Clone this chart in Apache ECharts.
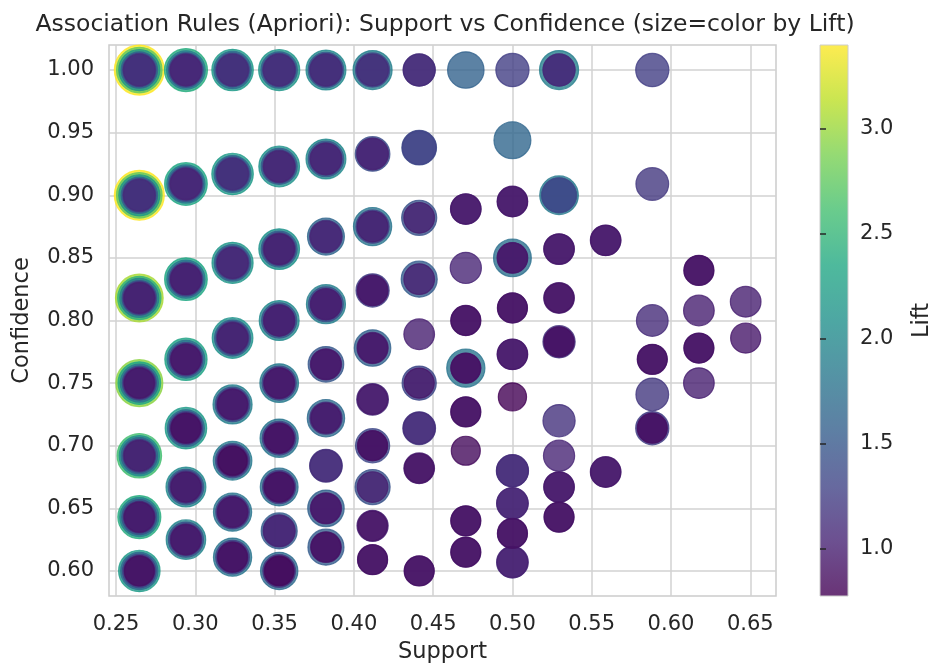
<!DOCTYPE html>
<html>
<head>
<meta charset="utf-8">
<title>Association Rules (Apriori)</title>
<script src="https://cdn.jsdelivr.net/npm/echarts@6.0.0/dist/echarts.min.js"></script>
<style>
  html, body { margin: 0; padding: 0; background: #fff; }
  #chart { width: 931px; height: 666px; }
</style>
</head>
<body>
<div id="chart"></div>
<script>
// support of the rule (x), one list per support column
var SUPPORT = [0.2647, 0.2941, 0.3235, 0.3529, 0.3824, 0.4118, 0.4412,
               0.4706, 0.5000, 0.5294, 0.5588, 0.5882, 0.6176, 0.6471];

// each row: [confidence, lift of rule 1, lift of rule 2, ...] (rules sharing a point)
var rulesS09 = [
    [1.000, 3.40, 2.75, 2.15, 1.60, 1.25, 1.10],
    [0.900, 3.40, 2.75, 2.15, 1.60, 1.25, 1.10],
    [0.818, 3.05, 2.45, 1.90, 1.40, 1.15, 1.00],
    [0.750, 2.95, 2.35, 1.80, 1.35, 1.10, 0.95],
    [0.692, 2.60, 2.05, 1.60, 1.20, 1.00],
    [0.643, 2.40, 1.90, 1.45, 1.10, 0.95],
    [0.600, 2.20, 1.70, 1.30, 1.00, 0.90]
];
var rulesS10 = [
    [1.000, 2.40, 1.85, 1.40, 1.15, 1.05],
    [0.909, 2.35, 1.80, 1.40, 1.15, 1.05],
    [0.833, 2.35, 1.80, 1.35, 1.10, 1.00],
    [0.769, 2.30, 1.75, 1.30, 1.05, 0.95],
    [0.714, 2.20, 1.65, 1.25, 1.00, 0.90],
    [0.667, 2.00, 1.50, 1.15, 0.95],
    [0.625, 1.95, 1.45, 1.10, 0.95]
];
var rulesS11 = [
    [1.000, 2.20, 1.70, 1.30, 1.10],
    [0.917, 2.20, 1.65, 1.30, 1.10],
    [0.846, 2.15, 1.60, 1.25, 1.05],
    [0.786, 2.10, 1.55, 1.20, 1.00],
    [0.733, 1.90, 1.40, 1.10, 0.95],
    [0.688, 1.85, 1.35, 1.05, 0.85],
    [0.647, 1.80, 1.30, 1.05, 0.95],
    [0.611, 1.80, 1.30, 1.00, 0.90]
];
var rulesS12 = [
    [1.000, 2.15, 1.60, 1.25, 1.10],
    [0.923, 2.10, 1.55, 1.20, 1.05],
    [0.857, 2.10, 1.55, 1.20, 1.00],
    [0.800, 2.00, 1.45, 1.10, 1.00],
    [0.750, 1.85, 1.35, 1.05, 0.95],
    [0.706, 1.80, 1.30, 1.00, 0.90],
    [0.667, 1.75, 1.25, 1.00, 0.90],
    [0.632, 1.55, 1.15, 1.05],
    [0.600, 1.70, 1.20, 0.95, 0.85]
];
var rulesS13 = [
    [1.000, 2.00, 1.50, 1.20, 1.10],
    [0.929, 2.00, 1.50, 1.15, 1.05],
    [0.867, 1.65, 1.20, 1.05],
    [0.813, 1.90, 1.40, 1.05, 1.00],
    [0.765, 1.50, 1.05, 0.95],
    [0.722, 1.70, 1.15, 0.95],
    [0.684, 1.20, 1.10],
    [0.650, 1.60, 1.05, 0.95],
    [0.619, 1.55, 1.00, 0.90]
];
var rulesS14 = [
    [1.000, 1.90, 1.35, 1.10],
    [0.933, 1.40, 1.10, 1.05],
    [0.875, 1.80, 1.25, 1.00],
    [0.824, 1.25, 1.00, 0.95],
    [0.778, 1.60, 1.05, 0.95],
    [0.737, 1.10, 0.95],
    [0.700, 1.35, 0.95, 0.90],
    [0.667, 1.45, 1.00],
    [0.636, 1.05, 0.90],
    [0.609, 0.95, 0.90]
];
var rulesS15 = [
    [1.000, 1.15, 1.10],
    [0.938, 1.40, 1.30],
    [0.882, 1.45, 1.00],
    [0.833, 1.55, 1.00],
    [0.789, 1.00],
    [0.750, 1.35, 0.95],
    [0.714, 1.20, 1.10],
    [0.682, 1.00, 0.90],
    [0.600, 0.95, 0.90]
];
var rulesS16 = [
    [1.000, 1.60],
    [0.889, 1.00, 0.95],
    [0.842, 1.05],
    [0.800, 0.95, 0.90],
    [0.762, 1.80, 0.95, 0.90],
    [0.727, 0.95, 0.90],
    [0.696, 0.85],
    [0.640, 0.95, 0.90],
    [0.615, 0.95, 0.90]
];
var rulesS17 = [
    [1.000, 1.25],
    [0.944, 1.65],
    [0.895, 1.00, 0.95],
    [0.850, 1.75, 1.00, 0.95],
    [0.810, 0.95, 0.90],
    [0.773, 1.00, 0.95],
    [0.739, 0.78],
    [0.680, 1.15, 1.10],
    [0.654, 1.10, 1.05],
    [0.630, 0.95, 0.90],
    [0.607, 1.10, 1.00]
];
var rulesS18 = [
    [1.000, 1.90, 1.15, 1.10],
    [0.900, 1.85, 1.45, 1.35],
    [0.857, 1.00, 0.95],
    [0.818, 1.00, 0.90],
    [0.783, 1.15, 0.95, 0.90],
    [0.720, 1.15],
    [0.692, 1.05],
    [0.667, 1.00, 0.95],
    [0.643, 0.95, 0.90]
];
var rulesS19 = [
    [0.864, 1.00, 0.95],
    [0.679, 1.00, 0.95]
];
var rulesS20 = [
    [1.000, 1.25],
    [0.909, 1.20],
    [0.800, 1.10],
    [0.769, 0.95, 0.90],
    [0.741, 1.20],
    [0.714, 1.25, 0.95, 0.90]
];
var rulesS21 = [
    [0.840, 0.95, 0.90],
    [0.808, 1.00],
    [0.778, 0.95, 0.90],
    [0.750, 1.00]
];
var rulesS22 = [
    [0.815, 1.00],
    [0.786, 0.95]
];
var RULES_BY_SUPPORT = [rulesS09, rulesS10, rulesS11, rulesS12, rulesS13, rulesS14, rulesS15,
                        rulesS16, rulesS17, rulesS18, rulesS19, rulesS20, rulesS21, rulesS22];

var SUPPORT_TICKS = [0.25, 0.30, 0.35, 0.40, 0.45, 0.50, 0.55, 0.60, 0.65];
var CONF_TICKS = [0.60, 0.65, 0.70, 0.75, 0.80, 0.85, 0.90, 0.95, 1.00];
var LIFT_TICKS = [1.0, 1.5, 2.0, 2.5, 3.0];
var LIFT_RANGE = [0.775, 3.40];

var VIRIDIS = ['#440154', '#482475', '#414487', '#355f8d', '#2a788e', '#21918c',
               '#22a884', '#44bf70', '#7ad151', '#bddf26', '#fde725'];
var TEXT = '#262626';
var FONT = 'DejaVu Sans';

function liftColor(l) {
    return echarts.color.lerp((l - LIFT_RANGE[0]) / (LIFT_RANGE[1] - LIFT_RANGE[0]), VIRIDIS);
}
function liftSize(l) {
    return Math.sqrt(841 + (l - 0.85) * 650); // area grows with lift
}

var points = [];
SUPPORT.forEach(function (s, i) {
    RULES_BY_SUPPORT[i].forEach(function (row) {
        for (var k = 1; k < row.length; k++) points.push([s, row[0], row[k]]);
    });
});
// bigger (higher lift) first so smaller circles sit on top
points.sort(function (a, b) { return b[2] - a[2]; });

var xPad = (SUPPORT[SUPPORT.length - 1] - SUPPORT[0]) * 0.05;

var barStops = VIRIDIS.map(function (c, i) {
    return { offset: i / (VIRIDIS.length - 1), color: echarts.color.modifyAlpha(c, 0.8) };
});

var myChart = echarts.init(document.getElementById('chart'), null, { renderer: 'canvas' });

myChart.setOption({
    animation: false,
    backgroundColor: '#fff',
    textStyle: { fontFamily: FONT, color: TEXT },
    title: {
        text: 'Association Rules (Apriori): Support vs Confidence (size=color by Lift)',
        left: 440,
        textAlign: 'center',
        top: 8,
        textStyle: { fontFamily: FONT, fontSize: 23.5, fontWeight: 'normal', color: TEXT }
    },
    grid: [{
        left: 109, top: 45, width: 667, height: 551, outerBoundsMode: 'none',
        show: true, borderColor: '#cccccc', borderWidth: 1.5, backgroundColor: '#fff'
    }, {
        left: 820, top: 45, width: 28, height: 551, outerBoundsMode: 'none',
        show: true, borderColor: '#cccccc', borderWidth: 1,
        backgroundColor: { type: 'linear', x: 0, y: 1, x2: 0, y2: 0, colorStops: barStops }
    }],
    xAxis: [{
        type: 'value', gridIndex: 0,
        min: SUPPORT[0] - xPad, max: SUPPORT[SUPPORT.length - 1] + xPad,
        name: 'Support', nameLocation: 'middle', nameGap: 45,
        nameTextStyle: { fontSize: 22.5, color: TEXT },
        axisLine: { show: false },
        axisTick: { show: false, customValues: SUPPORT_TICKS },
        axisLabel: {
            customValues: SUPPORT_TICKS, fontSize: 21, color: TEXT, margin: 18,
            formatter: function (v) { return v.toFixed(2); }
        },
        splitLine: { show: true, lineStyle: { color: '#d2d2d2', width: 1.5 } }
    }, {
        type: 'value', gridIndex: 1, min: 0, max: 1, show: false
    }],
    yAxis: [{
        type: 'value', gridIndex: 0, min: 0.58, max: 1.02,
        name: 'Confidence', nameLocation: 'middle', nameGap: 75, nameRotate: 90,
        nameTextStyle: { fontSize: 22.5, color: TEXT },
        axisLine: { show: false },
        axisTick: { show: false, customValues: CONF_TICKS },
        axisLabel: {
            customValues: CONF_TICKS, fontSize: 21, color: TEXT, margin: 15,
            formatter: function (v) { return v.toFixed(2); }
        },
        splitLine: { show: true, lineStyle: { color: '#d2d2d2', width: 1.5 } }
    }, {
        type: 'value', gridIndex: 1, position: 'right',
        min: LIFT_RANGE[0], max: LIFT_RANGE[1],
        name: 'Lift', nameLocation: 'middle', nameGap: 63, nameRotate: 90,
        nameTextStyle: { fontSize: 22.5, color: TEXT },
        axisLine: { show: false },
        splitLine: { show: false },
        axisTick: { show: true, inside: false, length: 6, customValues: LIFT_TICKS, lineStyle: { color: TEXT, width: 1.5 } },
        axisLabel: {
            customValues: LIFT_TICKS, fontSize: 21, color: TEXT, margin: 12,
            formatter: function (v) { return v.toFixed(1); }
        }
    }],
    series: [{
        type: 'scatter',
        xAxisIndex: 0, yAxisIndex: 0,
        silent: true,
        clip: false,
        symbol: 'circle',
        symbolSize: function (val) { return liftSize(val[2]); },
        data: points.map(function (p) {
            var c = liftColor(p[2]);
            return { value: p, itemStyle: { color: c, borderColor: c, borderWidth: 1.2, opacity: 0.8 } };
        })
    }]
});
</script>
</body>
</html>
